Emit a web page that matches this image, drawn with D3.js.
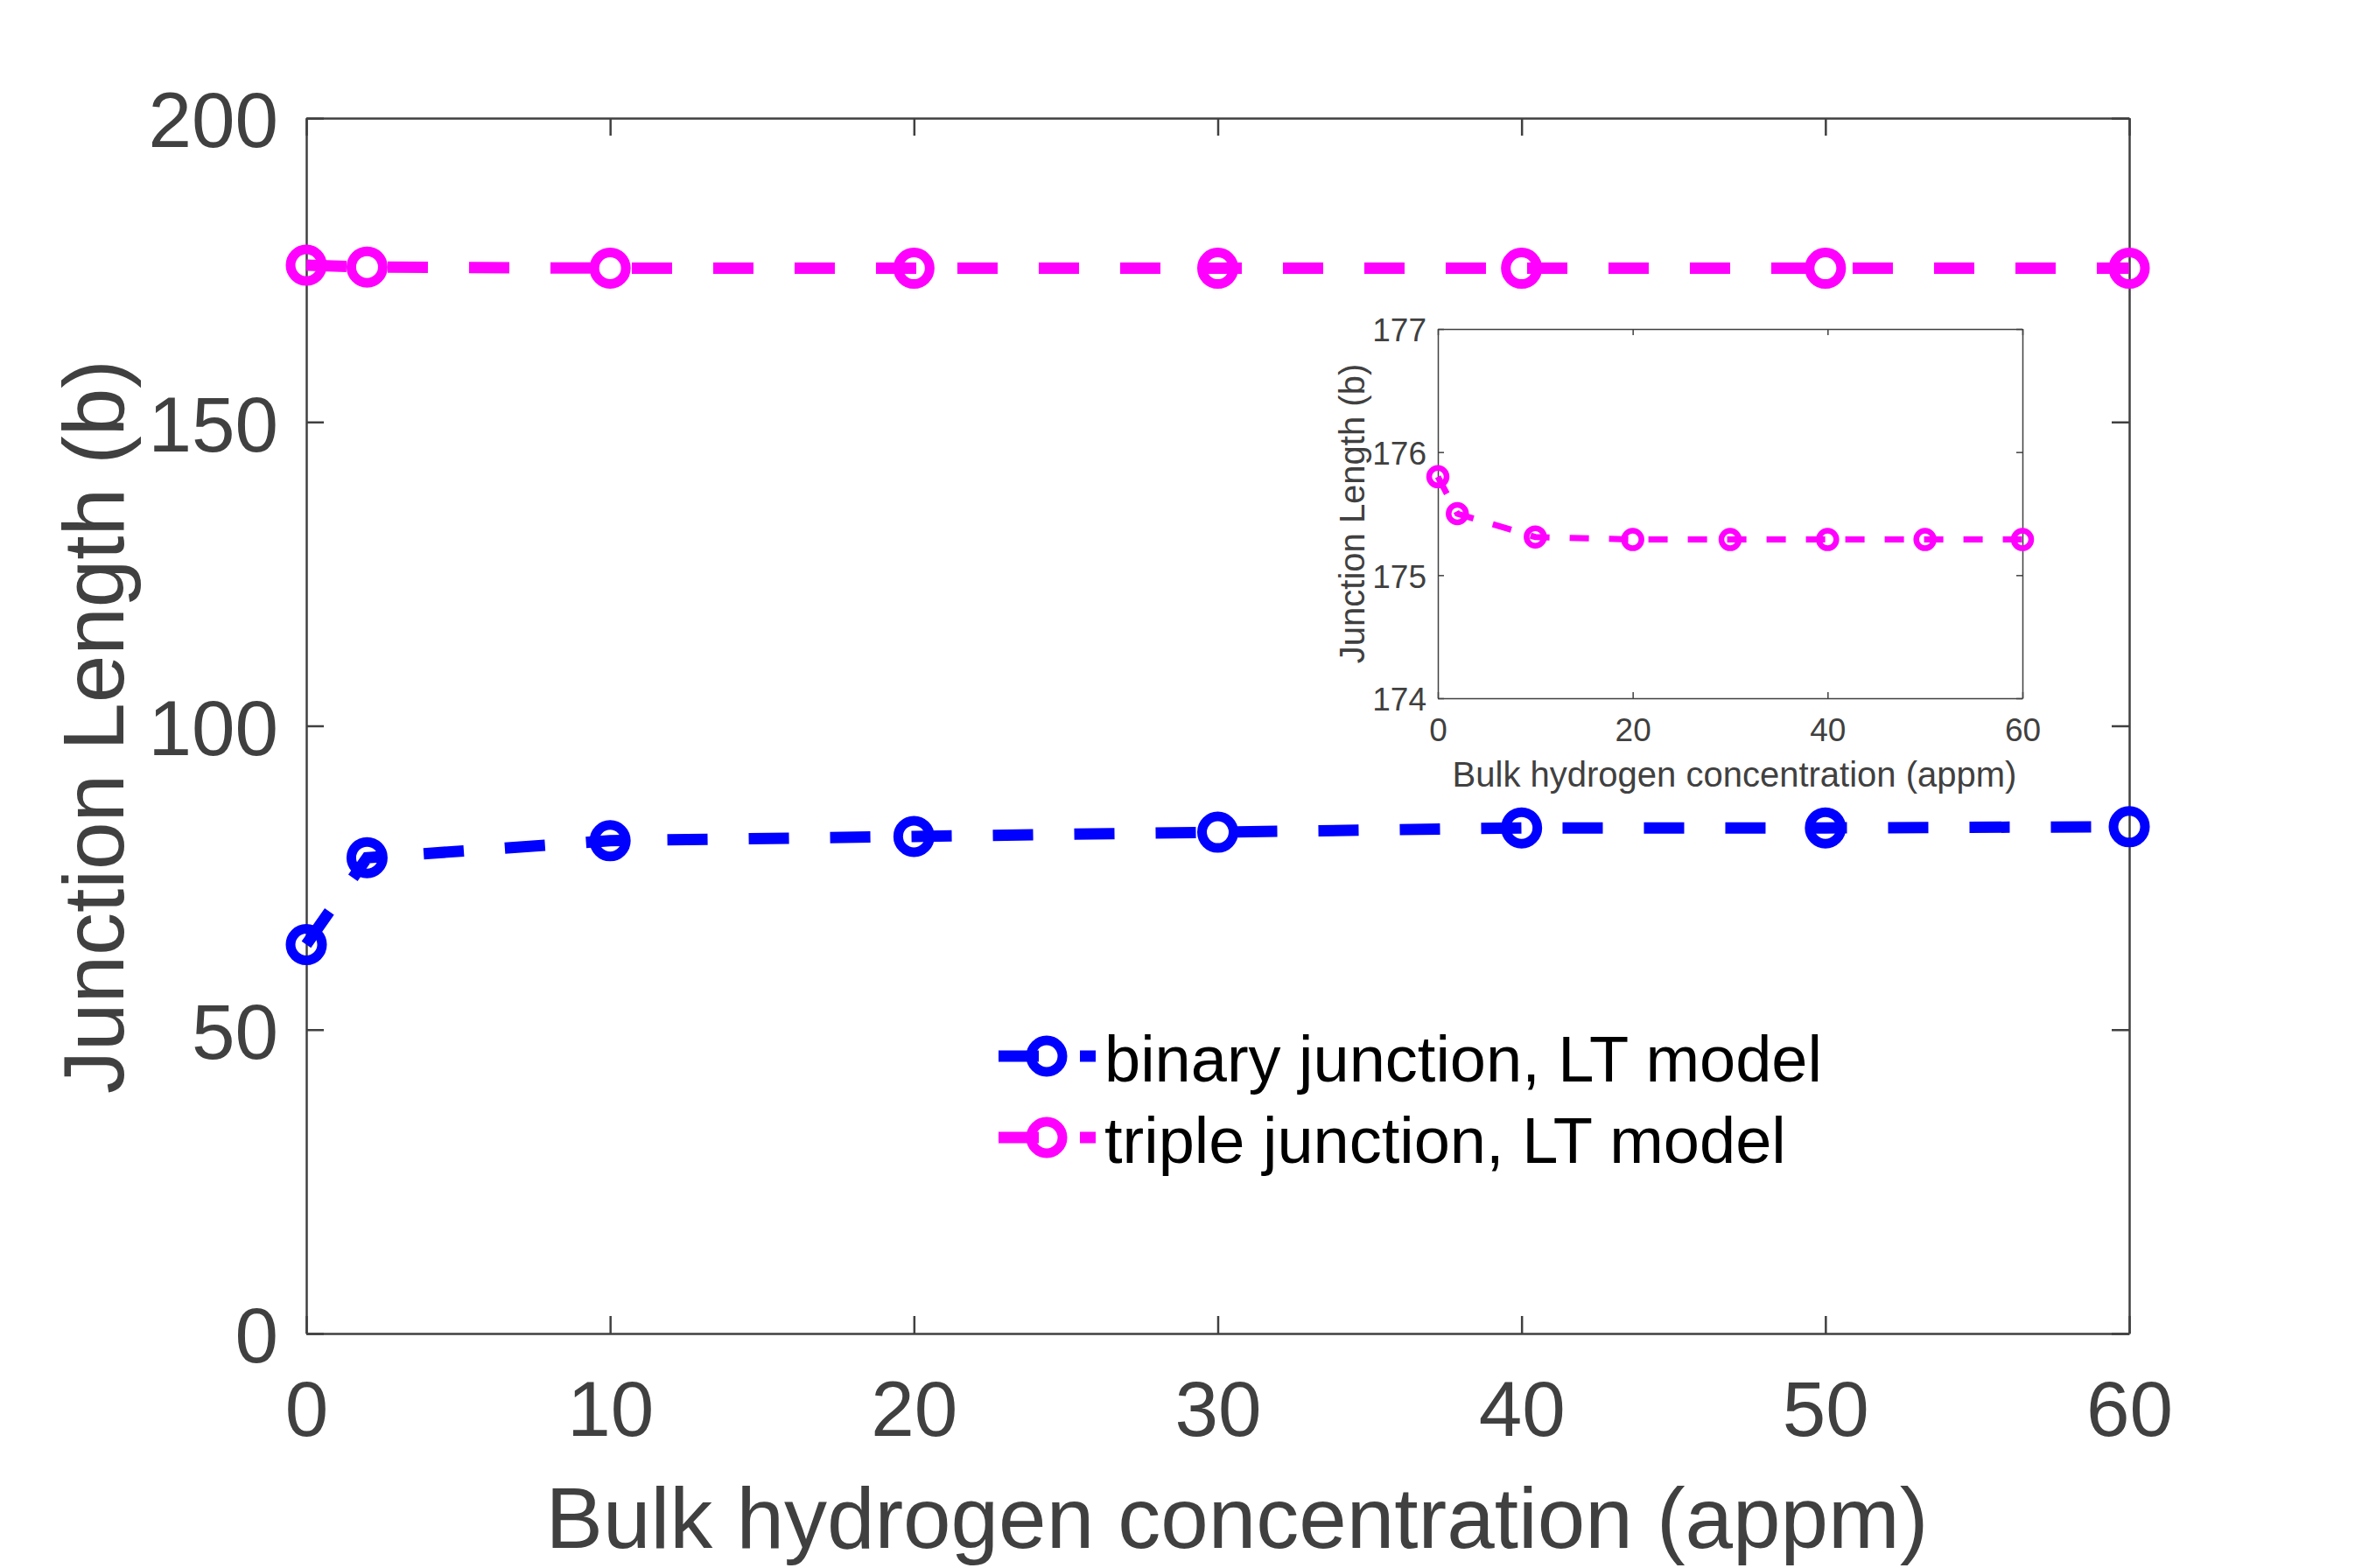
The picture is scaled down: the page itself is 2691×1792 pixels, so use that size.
<!DOCTYPE html>
<html>
<head>
<meta charset="utf-8">
<script src="https://cdn.jsdelivr.net/npm/d3@7"></script>
<style>
  body { margin: 0; background: #fff; }
  svg { display: block; }
  .tick text { font-family: "Liberation Sans", Arial, sans-serif; fill: #404040; }
  .domain { stroke: #404040; }
  .tick line { stroke: #404040; }
</style>
</head>
<body>
<svg id="chart"></svg>
<script>

// concentrations (appm) and junction lengths (b)
var xVals = [0, 2, 10, 20, 30, 40, 50, 60];
var binaryLen = [64.0, 78.3, 81.1, 81.8, 82.5, 83.2, 83.2, 83.4];
var tripleLen = [175.8, 175.5, 175.31, 175.29, 175.29, 175.29, 175.29, 175.29];

var seriesNames = ["binary junction, LT model", "triple junction, LT model"];
var seriesColors = ["#0000ff", "#ff00ff"];

var mainXTicks = [0, 10, 20, 30, 40, 50, 60];
var mainYTicks = [0, 50, 100, 150, 200];
var insetXTicks = [0, 20, 40, 60];
var insetYTicks = [174, 175, 176, 177];

var xLabel = "Bulk hydrogen concentration (appm)";
var yLabel = "Junction Length (b)";

var W = 2691, H = 1792;

var svg = d3.select("#chart").attr("width", W).attr("height", H);

var series = [binaryLen, tripleLen].map(function (vals, i) {
    return {
        name: seriesNames[i],
        color: seriesColors[i],
        points: xVals.map(function (x, j) { return [x, vals[j]]; })
    };
});

// ---------- main axes ----------
var main = { left: 350, right: 2433, top: 135, bottom: 1524 };

var x = d3.scaleLinear().domain([0, 60]).range([main.left, main.right]);
var y = d3.scaleLinear().domain([0, 200]).range([main.bottom, main.top]);

function drawBox(g, xs, ys, box, tickLen, fontSize, padX, padY, xt, yt, lineW) {
    var fmt = d3.format("d");
    g.append("g")
        .attr("transform", "translate(0," + box.bottom + ")")
        .call(d3.axisBottom(xs).tickValues(xt).tickFormat(fmt).tickSizeInner(-tickLen).tickSizeOuter(0).tickPadding(padX))
        .call(function (a) { a.selectAll("text").attr("font-size", fontSize); });
    g.append("g")
        .attr("transform", "translate(" + box.left + ",0)")
        .call(d3.axisLeft(ys).tickValues(yt).tickFormat(fmt).tickSizeInner(-tickLen).tickSizeOuter(0).tickPadding(padY))
        .call(function (a) { a.selectAll("text").attr("font-size", fontSize).attr("dy", "0.37em"); });
    g.append("g")
        .attr("transform", "translate(0," + box.top + ")")
        .call(d3.axisTop(xs).tickValues(xt).tickSizeInner(-tickLen).tickSizeOuter(0).tickFormat(""));
    g.append("g")
        .attr("transform", "translate(" + box.right + ",0)")
        .call(d3.axisRight(ys).tickValues(yt).tickSizeInner(-tickLen).tickSizeOuter(0).tickFormat(""));
    g.selectAll(".domain, .tick line").attr("stroke-width", lineW);
}

var gMain = svg.append("g");
drawBox(gMain, x, y, main, 20, 89, 54, 32, mainXTicks, mainYTicks, 2.5);

var line = d3.line().x(function (d) { return x(d[0]); }).y(function (d) { return y(d[1]); });

series.forEach(function (s) {
    gMain.append("path")
        .datum(s.points)
        .attr("d", line)
        .attr("fill", "none")
        .attr("stroke", s.color)
        .attr("stroke-width", 13)
        .attr("stroke-dasharray", "46,47");
    gMain.selectAll(null).data(s.points).enter().append("circle")
        .attr("cx", function (d) { return x(d[0]); })
        .attr("cy", function (d) { return y(d[1]); })
        .attr("r", 18)
        .attr("fill", "none")
        .attr("stroke", s.color)
        .attr("stroke-width", 11);
});

gMain.append("text")
    .attr("x", (main.left + main.right) / 2 + 22)
    .attr("y", 1769)
    .attr("text-anchor", "middle")
    .attr("font-family", "Liberation Sans, Arial, sans-serif")
    .attr("font-size", 98)
    .attr("fill", "#404040")
    .text(xLabel);

gMain.append("text")
    .attr("transform", "translate(141," + ((main.top + main.bottom) / 2 + 1) + ") rotate(-90)")
    .attr("text-anchor", "middle")
    .attr("font-family", "Liberation Sans, Arial, sans-serif")
    .attr("font-size", 98)
    .attr("fill", "#404040")
    .text(yLabel);

// ---------- legend ----------
var legend = gMain.append("g").attr("transform", "translate(1141,1207)");
series.forEach(function (s, i) {
    var row = legend.append("g").attr("transform", "translate(0," + (i * 93) + ")");
    row.append("line")
        .attr("x1", 0).attr("x2", 111).attr("y1", 0).attr("y2", 0)
        .attr("stroke", s.color).attr("stroke-width", 13)
        .attr("stroke-dasharray", "46,47");
    row.append("circle")
        .attr("cx", 55).attr("cy", 0).attr("r", 18)
        .attr("fill", "none").attr("stroke", s.color).attr("stroke-width", 11);
    row.append("text")
        .attr("x", 121).attr("y", 29)
        .attr("font-family", "Liberation Sans, Arial, sans-serif")
        .attr("font-size", 74)
        .attr("fill", "#000")
        .text(s.name);
});

// ---------- inset ----------
var inset = { left: 1643, right: 2311, top: 376, bottom: 798 };
var xi = d3.scaleLinear().domain([0, 60]).range([inset.left, inset.right]);
var yi = d3.scaleLinear().domain([174, 177]).range([inset.bottom, inset.top]);

var gIn = svg.append("g");
gIn.append("rect")
    .attr("x", inset.left).attr("y", inset.top)
    .attr("width", inset.right - inset.left).attr("height", inset.bottom - inset.top)
    .attr("fill", "#fff");
drawBox(gIn, xi, yi, inset, 7, 37, 23, 13, insetXTicks, insetYTicks, 1.5);
gIn.selectAll(".domain, .tick line").attr("stroke", "#808080");

var lineIn = d3.line().x(function (d) { return xi(d[0]); }).y(function (d) { return yi(d[1]); });
var tri = series[1];
gIn.append("path")
    .datum(tri.points)
    .attr("d", lineIn)
    .attr("fill", "none")
    .attr("stroke", tri.color)
    .attr("stroke-width", 7)
    .attr("stroke-dasharray", "22,23");
gIn.selectAll(null).data(tri.points).enter().append("circle")
    .attr("cx", function (d) { return xi(d[0]); })
    .attr("cy", function (d) { return yi(d[1]); })
    .attr("r", 10)
    .attr("fill", "none")
    .attr("stroke", tri.color)
    .attr("stroke-width", 6.5);

gIn.append("text")
    .attr("x", (inset.left + inset.right) / 2 + 5)
    .attr("y", 899)
    .attr("text-anchor", "middle")
    .attr("font-family", "Liberation Sans, Arial, sans-serif")
    .attr("font-size", 40)
    .attr("fill", "#404040")
    .text(xLabel);

gIn.append("text")
    .attr("transform", "translate(1559," + (inset.top + inset.bottom) / 2 + ") rotate(-90)")
    .attr("text-anchor", "middle")
    .attr("font-family", "Liberation Sans, Arial, sans-serif")
    .attr("font-size", 40)
    .attr("fill", "#404040")
    .text(yLabel);

</script>
</body>
</html>
